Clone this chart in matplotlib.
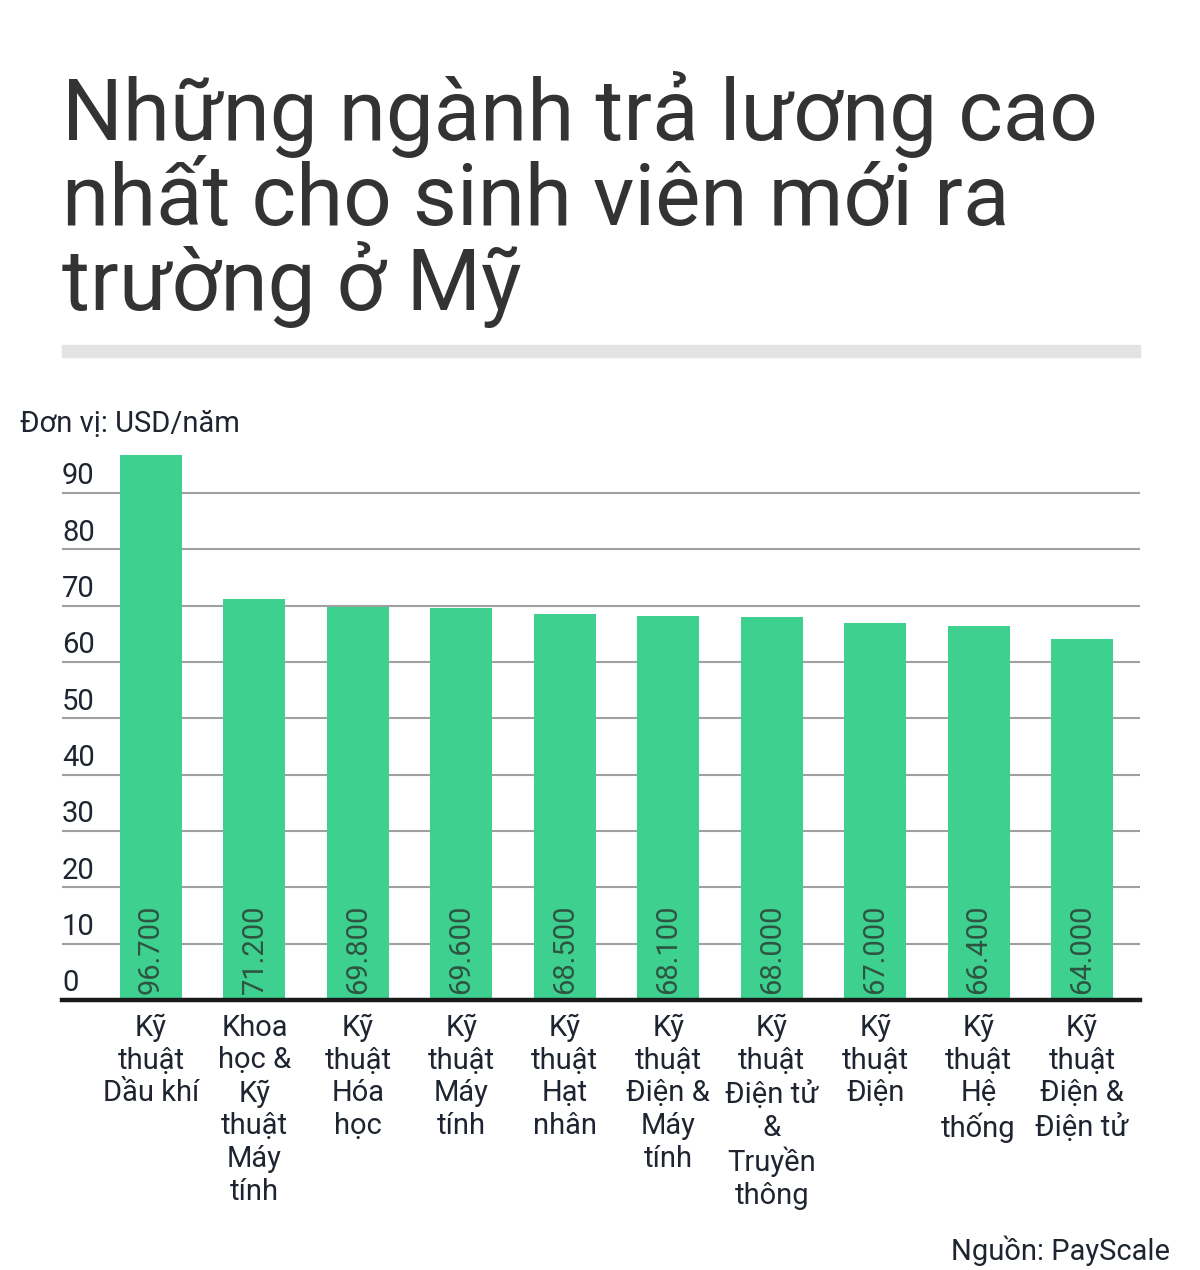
import matplotlib
matplotlib.use('Agg')
import matplotlib.pyplot as plt
import matplotlib.transforms as mtransforms

plt.rcParams['font.family'] = ['Roboto', 'DejaVu Sans']

# ----------- DATA -------------
categories = [
    "Kỹ\nthuật\nDầu khí",
    "Khoa\nhọc &\nKỹ\nthuật\nMáy\ntính",
    "Kỹ\nthuật\nHóa\nhọc",
    "Kỹ\nthuật\nMáy\ntính",
    "Kỹ\nthuật\nHạt\nnhân",
    "Kỹ\nthuật\nĐiện &\nMáy\ntính",
    "Kỹ\nthuật\nĐiện tử\n&\nTruyền\nthông",
    "Kỹ\nthuật\nĐiện",
    "Kỹ\nthuật\nHệ\nthống",
    "Kỹ\nthuật\nĐiện &\nĐiện tử",
]
salaries = [96.7, 71.2, 69.8, 69.6, 68.5, 68.1, 68.0, 67.0, 66.4, 64.0]
value_labels = ["96.700", "71.200", "69.800", "69.600", "68.500",
                "68.100", "68.000", "67.000", "66.400", "64.000"]
yticks = [0, 10, 20, 30, 40, 50, 60, 70, 80, 90]
# ------------------------------

W, H = 1200, 1270
fig = plt.figure(figsize=(W / 100, H / 100), dpi=100)
fig.patch.set_facecolor('white')

text_dark = '#1e2430'
title_color = '#333333'

# title
title_lines = ["Những ngành trả lương cao",
               "nhất cho sinh viên mới ra",
               "trường ở Mỹ"]
for i, line in enumerate(title_lines):
    fig.text(62 / W, 1 - (140 + 85 * i) / H, line, fontsize=61.5,
             color=title_color, ha='left', va='baseline')

# separator bar
fig.patches.append(plt.Rectangle((62 / W, 1 - 357 / H), (1140 - 62) / W, 12 / H,
                                 transform=fig.transFigure, color='#e3e3e3',
                                 zorder=0))

# axes
ax_left, ax_right = 62, 1140
ax_bottom, ax_top = 1000, 1000 - 97 * 5.633
ax = fig.add_axes([ax_left / W, 1 - ax_bottom / H,
                   (ax_right - ax_left) / W, (ax_bottom - ax_top) / H])

x = list(range(len(salaries)))
ax.bar(x, salaries, width=0.6, color='#3dd08f', zorder=2)
ax.set_xlim(-0.86, 9.56)
ax.set_ylim(0, 97)

for v in yticks[1:]:
    ax.axhline(v, color='#a0a0a0', lw=1.5, zorder=1)
ax.axhline(0, color='#1a1a1a', lw=3.2, zorder=3, clip_on=False)

trans = mtransforms.blended_transform_factory(ax.transAxes, ax.transData)
for v in yticks:
    ax.text(0.0, v + 0.5, str(v), transform=trans, fontsize=21,
            color=text_dark, ha='left', va='bottom')

for xi, lab in zip(x, value_labels):
    ax.text(xi, 1.0, lab, rotation=90, fontsize=21, color='#2e5442',
            ha='center', va='bottom', zorder=4)

for xi, cat in zip(x, categories):
    ax.text(xi, -2.4, cat, fontsize=21, color=text_dark, ha='center',
            va='top', linespacing=1.22)

for s in ax.spines.values():
    s.set_visible(False)
ax.set_xticks([])
ax.set_yticks([])

fig.text(20 / W, 1 - 424 / H, "Đơn vị: USD/năm", fontsize=21,
         color=text_dark, ha='left', va='center')
fig.text(1170 / W, 1 - 1251 / H, "Nguồn: PayScale", fontsize=21,
         color=text_dark, ha='right', va='center')

fig.savefig('out.png', dpi=100)
